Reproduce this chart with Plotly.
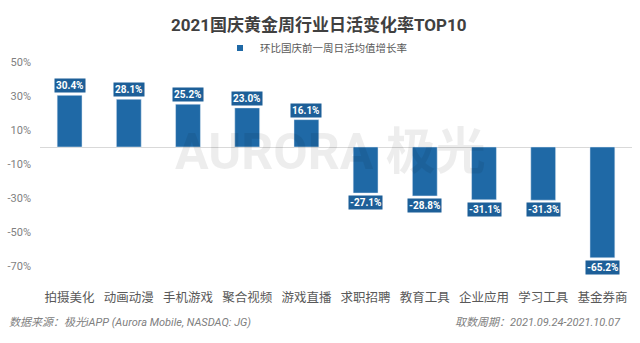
import plotly.graph_objects as go

categories = ["拍摄美化", "动画动漫", "手机游戏", "聚合视频", "游戏直播",
              "求职招聘", "教育工具", "企业应用", "学习工具", "基金券商"]
values = [30.4, 28.1, 25.2, 23.0, 16.1, -27.1, -28.8, -31.1, -31.3, -65.2]
tick_vals = [50, 30, 10, -10, -30, -50, -70]
tick_text = ["50%", "30%", "10%", "-10%", "-30%", "-50%", "-70%"]
series_name = "环比国庆前一周日活均值增长率"

bar_color = "#1f69a6"
label_bg = "#1d5f98"
font = "Roboto, 'Noto Sans CJK SC', sans-serif"
cjk = "'Noto Sans CJK SC', Roboto, sans-serif"

W, H = 640, 343
ML, MR, MT, MB = 40, 8, 62, 77
PW, PH = W - ML - MR, H - MT - MB


def px_x(px):
    return (px - ML) / PW


def px_y(py):
    return (H - MB - py) / PH


fig = go.Figure()
fig.add_trace(go.Bar(
    x=categories, y=values, marker_color=bar_color,
    name=series_name, showlegend=False, legendgroup="s",
))
# legend entry with a small square marker, tied to the bars
fig.add_trace(go.Scatter(
    x=[None], y=[None], mode="markers", name=series_name, legendgroup="s",
    marker=dict(symbol="square", size=6, color=bar_color), showlegend=True,
))

annotations = []
for c, v in zip(categories, values):
    annotations.append(dict(
        x=c, y=v, xref="x", yref="y",
        text="<b>%.1f%%</b>" % v,
        showarrow=False,
        yanchor="bottom" if v >= 0 else "top",
        yshift=2 if v >= 0 else -2,
        font=dict(color="white", size=10, family=font),
        bgcolor=label_bg, borderpad=1,
    ))

# watermark
annotations.append(dict(
    x=px_x(330), y=px_y(152), xref="paper", yref="paper", text="<b>AURORA 极光</b>",
    showarrow=False, font=dict(size=50, color="rgba(0,0,0,0.07)", family=font),
))
annotations.append(dict(
    x=px_x(319), y=px_y(25), xref="paper", yref="paper", yanchor="middle",
    text="<b>2021国庆黄金周行业日活变化率TOP10</b>",
    showarrow=False, font=dict(size=17, color="#404040", family=font),
))
annotations.append(dict(
    x=px_x(7), y=px_y(322), xref="paper", yref="paper", xanchor="left", yanchor="middle",
    text="<i>数据来源：极光iAPP (Aurora Mobile, NASDAQ: JG)</i>",
    showarrow=False, font=dict(size=11, color="#808080", family=font),
))
annotations.append(dict(
    x=px_x(623), y=px_y(322), xref="paper", yref="paper", xanchor="right", yanchor="middle",
    text="<i>取数周期：2021.09.24-2021.10.07</i>",
    showarrow=False, font=dict(size=11, color="#808080", family=font),
))

fig.update_layout(
    width=W, height=H,
    margin=dict(l=ML, r=MR, t=MT, b=MB),
    paper_bgcolor="white", plot_bgcolor="white",
    bargap=0.58,
    font=dict(family=font, color="#595959"),
    legend=dict(orientation="h", x=px_x(316), xanchor="center", y=px_y(48), yanchor="middle",
                font=dict(size=10.5, color="#595959", family=cjk), itemwidth=30),
    xaxis=dict(showgrid=False, showline=False, ticks="",
               tickfont=dict(size=12.5, color="#595959", family=cjk),
               range=[-0.5, 9.5], ticklabelstandoff=22),
    yaxis=dict(range=[-70, 50], tickvals=tick_vals, ticktext=tick_text, showgrid=False,
               zeroline=True, zerolinecolor="#d9d9d9", zerolinewidth=1,
               tickfont=dict(size=11, color="#7f7f7f"), ticklabelstandoff=8),
    annotations=annotations,
)

fig.write_html("out.html")
